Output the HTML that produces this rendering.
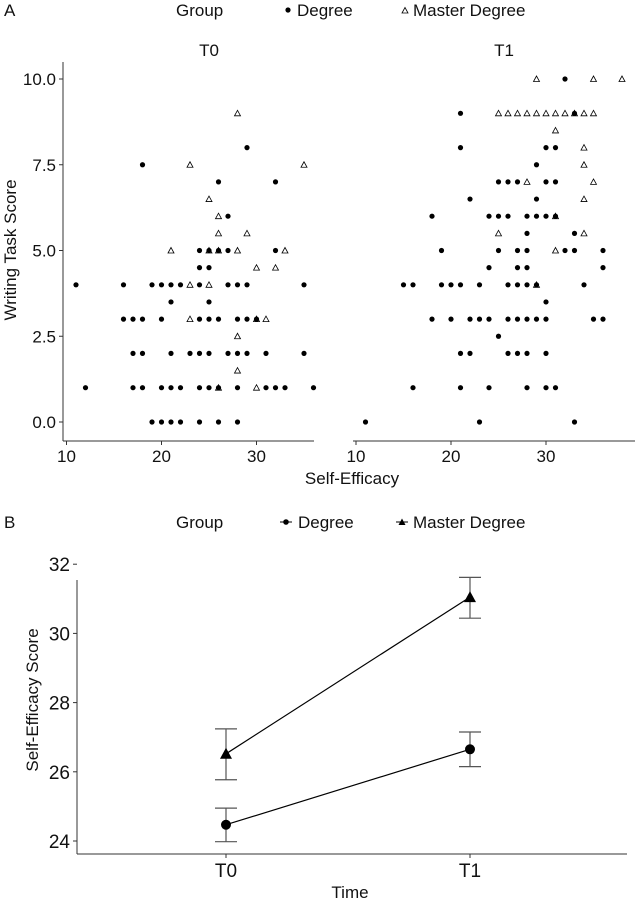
<!DOCTYPE html>
<html><head><meta charset="utf-8"><style>
html,body{margin:0;padding:0;background:#fff;}
svg{display:block;font-family:"Liberation Sans Narrow","Liberation Sans",sans-serif;}
</style></head><body>
<svg id="c" width="635" height="900" viewBox="0 0 635 900" xmlns="http://www.w3.org/2000/svg">
<g font-size="17" fill="#111">
<text x="4" y="16">A</text>
<text x="176" y="16">Group</text>
<circle cx="288" cy="10" r="2.6" fill="#000"/>
<text x="297" y="16">Degree</text>
<path d="M402,13 L405,7.5 L408,13 Z" fill="none" stroke="#000" stroke-width="0.8"/>
<text x="413" y="16">Master Degree</text>
<text x="209" y="56" text-anchor="middle">T0</text>
<text x="504" y="56" text-anchor="middle">T1</text>
<text x="352" y="484" text-anchor="middle">Self-Efficacy</text>
<text transform="translate(16,250) rotate(-90)" text-anchor="middle">Writing Task Score</text>
<text x="4" y="528">B</text>
<text x="176" y="528">Group</text>
<line x1="280" y1="522" x2="292" y2="522" stroke="#000"/>
<circle cx="286" cy="522" r="2.8" fill="#000"/>
<text x="298" y="528">Degree</text>
<line x1="396" y1="522" x2="408" y2="522" stroke="#000"/>
<path d="M398.5,525 L402,518.5 L405.5,525 Z" fill="#000"/>
<text x="413" y="528">Master Degree</text>
<text x="350" y="898" text-anchor="middle">Time</text>
<text transform="translate(38,700) rotate(-90)" text-anchor="middle">Self-Efficacy Score</text>
</g>
<g id="plot"></g>
</svg>
<script>
// Panel A data: [selfEfficacy, writingScore]
const t0Degree=[[29,8],[18,7.5],[26,7],[32,7],[27,6],[24,5],[25,5],[26,5],[27,5],[32,5],[24,4.5],[25,4.5],
[11,4],[16,4],[19,4],[20,4],[21,4],[22,4],[24,4],[27,4],[28,4],[29,4],[35,4],[21,3.5],[25,3.5],
[16,3],[17,3],[18,3],[20,3],[24,3],[25,3],[26,3],[28,3],[29,3],[30,3],
[17,2],[18,2],[21,2],[23,2],[24,2],[25,2],[27,2],[28,2],[29,2],[31,2],[35,2],
[12,1],[17,1],[18,1],[20,1],[21,1],[22,1],[24,1],[25,1],[26,1],[28,1],[31,1],[32,1],[33,1],[36,1],
[19,0],[20,0],[21,0],[22,0],[24,0],[26,0],[28,0]];
const t0Master=[[28,9],[23,7.5],[35,7.5],[25,6.5],[26,6],[26,5.5],[29,5.5],[21,5],[25,5],[26,5],[28,5],[33,5],
[30,4.5],[32,4.5],[23,4],[25,4],[23,3],[30,3],[31,3],[28,2.5],[28,1.5],[26,1],[30,1]];
const t1Degree=[[32,10],[21,9],[33,9],[21,8],[30,8],[31,8],[29,7.5],[25,7],[26,7],[27,7],[30,7],[31,7],
[22,6.5],[29,6.5],[18,6],[24,6],[25,6],[26,6],[28,6],[29,6],[30,6],[31,6],[28,5.5],[33,5.5],
[19,5],[25,5],[27,5],[28,5],[32,5],[33,5],[36,5],[24,4.5],[27,4.5],[28,4.5],[36,4.5],
[15,4],[16,4],[19,4],[20,4],[21,4],[23,4],[26,4],[27,4],[28,4],[29,4],[34,4],[30,3.5],
[18,3],[20,3],[22,3],[23,3],[24,3],[26,3],[27,3],[28,3],[29,3],[30,3],[35,3],[36,3],[25,2.5],
[21,2],[22,2],[26,2],[27,2],[28,2],[30,2],[16,1],[21,1],[24,1],[28,1],[30,1],[31,1],[11,0],[23,0],[33,0]];
const t1Master=[[29,10],[35,10],[38,10],[25,9],[26,9],[27,9],[28,9],[29,9],[30,9],[31,9],[32,9],[33,9],[34,9],[35,9],
[31,8.5],[34,8],[34,7.5],[28,7],[35,7],[34,6.5],[31,6],[25,5.5],[34,5.5],[31,5],[29,4]];
const yTicksA=[0,2.5,5,7.5,10];
const yTickLabelsA=["0.0","2.5","5.0","7.5","10.0"];
const xTicksA=[10,20,30];
// Panel B data
const timeCats=["T0","T1"];
const degreeMean=[24.47,26.65];
const degreeLo=[23.98,26.15];
const degreeHi=[24.95,27.15];
const masterMean=[26.52,31.05];
const masterLo=[25.77,30.44];
const masterHi=[27.24,31.62];
const yTicksB=[24,26,28,30,32];

const NS="http://www.w3.org/2000/svg";
const g=document.getElementById('plot');
function mk(tag,attrs,parent){const e=document.createElementNS(NS,tag);for(const k in attrs)e.setAttribute(k,attrs[k]);(parent||g).appendChild(e);return e;}

const yA=v=>422-v*34.3;
const xT0=v=>66.5+(v-10)*9.5;
const xT1=v=>356+(v-10)*9.5;

// axes A
let e;
e=mk('line',{x1:63,y1:62,x2:63,y2:441,stroke:'#333','stroke-width':1});


e=mk('line',{x1:63,y1:441,x2:314,y2:441,stroke:'#333','stroke-width':1});


e=mk('line',{x1:353,y1:441,x2:635,y2:441,stroke:'#333','stroke-width':1});


yTicksA.forEach((t,i)=>{
  e=mk('line',{x1:59,y1:yA(t),x2:63,y2:yA(t),stroke:'#333'});
  
  
  e=mk('text',{x:56,y:yA(t)+6,'text-anchor':'end','font-size':17,fill:'#111'});
  e.textContent=yTickLabelsA[i];
  
  
});
[xT0,xT1].forEach(fx=>{
  xTicksA.forEach(t=>{
    e=mk('line',{x1:fx(t),y1:441,x2:fx(t),y2:445,stroke:'#333'});
    
    
    e=mk('text',{x:fx(t),y:462,'text-anchor':'middle','font-size':17,fill:'#111'});
    e.textContent=t;
    
    
  });
});
function dots(data,fx){data.forEach(d=>{
  e=mk('circle',{cx:fx(d[0]),cy:yA(d[1]),r:2.6,fill:'#000'});
  
  
});}
function tris(data,fx){data.forEach(d=>{
  const x=fx(d[0]),y=yA(d[1]);
  e=mk('path',{d:`M${x-3},${y+2.5} L${x},${y-3} L${x+3},${y+2.5} Z`,fill:'none',stroke:'#000','stroke-width':0.8});
  
  
});}
tris(t0Master,xT0);dots(t0Degree,xT0);
tris(t1Master,xT1);dots(t1Degree,xT1);

// Panel B
const yB=v=>841-(v-24)*34.6;
const xB=i=>[226,470][i];
e=mk('line',{x1:77,y1:580,x2:77,y2:854,stroke:'#333'});


e=mk('line',{x1:77,y1:854,x2:627,y2:854,stroke:'#333'});


yTicksB.forEach(t=>{
  e=mk('line',{x1:73,y1:yB(t),x2:77,y2:yB(t),stroke:'#333'});
  
  
  e=mk('text',{x:70,y:yB(t)+7,'text-anchor':'end','font-size':19,fill:'#111'});
  e.textContent=t;
  
  
});
timeCats.forEach((c,i)=>{
  e=mk('line',{x1:xB(i),y1:854,x2:xB(i),y2:858,stroke:'#333'});
  
  
  e=mk('text',{x:xB(i),y:877,'text-anchor':'middle','font-size':19,fill:'#111'});
  e.textContent=c;
  
  
});
function series(mean,lo,hi,marker,name){
  e=mk('polyline',{points:mean.map((m,i)=>xB(i)+','+yB(m)).join(' '),fill:'none',stroke:'#000','stroke-width':1.2});
  
  
  mean.forEach((m,i)=>{
    const x=xB(i);
    e=mk('path',{d:`M${x-11},${yB(lo[i])} H${x+11} M${x-11},${yB(hi[i])} H${x+11} M${x},${yB(lo[i])} V${yB(hi[i])}`,stroke:'#555','stroke-width':1.2,fill:'none'});
    
    
    const y=yB(m);
    if(marker==='dot'){e=mk('circle',{cx:x,cy:y,r:5,fill:'#000'});}
    else{e=mk('path',{d:`M${x-6},${y+5} L${x},${y-6} L${x+6},${y+5} Z`,fill:'#000'});}
    
    
  });
}
series(degreeMean,degreeLo,degreeHi,'dot','degree');
series(masterMean,masterLo,masterHi,'tri','master');
</script>
</body></html>
